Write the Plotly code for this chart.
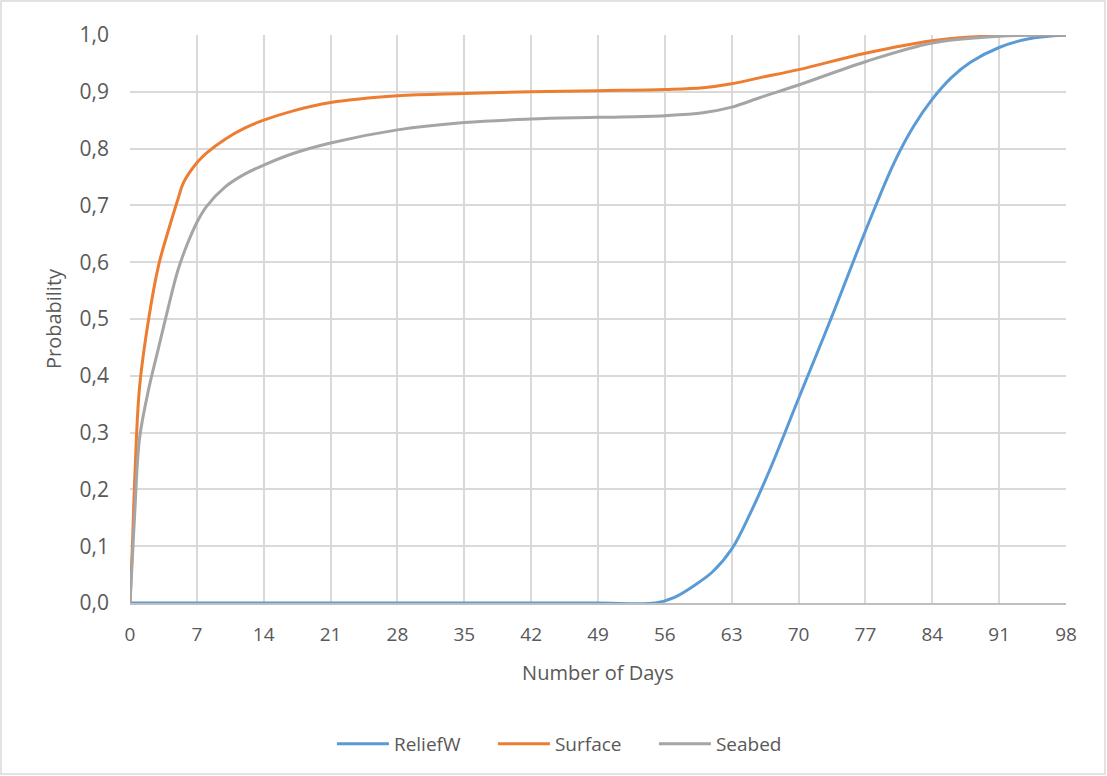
import plotly.graph_objects as go

# Cumulative probability curves vs. number of days
relief_days = [0, 14, 28, 42, 49, 55, 57, 59, 61, 63, 65, 67, 70, 73.5, 77, 80, 82, 84, 86, 88,
               91, 94, 98]
relief_prob = [0, 0, 0, 0, 0, 0, 0.01, 0.03, 0.055, 0.095, 0.16, 0.235, 0.36, 0.505, 0.655, 0.775,
               0.838, 0.887, 0.925, 0.952, 0.978, 0.993, 1.0]

surface_days = [0, 0.25, 0.5, 1, 2, 3, 4, 5, 5.6, 7, 8, 10, 12, 14, 17, 21, 28, 35, 42, 49, 56,
                60, 63, 66, 70, 77, 84, 91, 98]
surface_prob = [0, 0.1, 0.22, 0.38, 0.505, 0.595, 0.655, 0.71, 0.74, 0.775, 0.792, 0.817, 0.836,
                0.85, 0.866, 0.881, 0.893, 0.897, 0.9, 0.902, 0.904, 0.907, 0.914, 0.925, 0.939,
                0.968, 0.99, 0.999, 1.0]

seabed_days = [0, 0.25, 0.5, 1, 2, 3, 4, 5, 6, 7, 8, 10, 12, 14, 17, 21, 28, 35, 42, 49, 56,
               60, 63, 66, 70, 77, 84, 91, 98]
seabed_prob = [0, 0.08, 0.16, 0.29, 0.38, 0.45, 0.52, 0.585, 0.632, 0.67, 0.698, 0.733, 0.755,
               0.771, 0.791, 0.81, 0.833, 0.846, 0.852, 0.855, 0.858, 0.863, 0.873, 0.89, 0.912,
               0.953, 0.986, 0.998, 1.0]

x_ticks = list(range(0, 99, 7))

FONT = "Open Sans, Segoe UI, sans-serif"
TEXT = "#595959"
GRID = "#d9d9d9"

fig = go.Figure()
series = [
    ("ReliefW", relief_days, relief_prob, "#5b9bd5"),
    ("Surface", surface_days, surface_prob, "#ed7d31"),
    ("Seabed", seabed_days, seabed_prob, "#a5a5a5"),
]
for name, xs, ys, color in series:
    fig.add_trace(go.Scatter(
        x=xs, y=ys, name=name, mode="lines",
        line=dict(color=color, width=3, shape="spline", smoothing=1.0),
    ))

W, H = 1107, 776
L, R, T, B = 130, 41, 35, 173
pw, ph = W - L - R, H - T - B

fig.update_layout(
    width=W, height=H,
    margin=dict(l=L, r=R, t=T, b=B),
    paper_bgcolor="white", plot_bgcolor="white",
    separators=", ",
    font=dict(family=FONT, color=TEXT, size=18),
    showlegend=True,
    legend=dict(
        orientation="h", xref="container", yref="container",
        x=0.518, xanchor="center", y=1 - 744 / H, yanchor="middle",
        font=dict(size=19, color=TEXT), itemwidth=52,
        entrywidth=94, entrywidthmode="pixels",
    ),
    xaxis=dict(
        range=[0, 98], tickvals=x_ticks, showgrid=True, gridcolor=GRID, gridwidth=2,
        showline=True, linecolor="#bfbfbf", linewidth=2, zeroline=False,
        ticks="", ticklabelstandoff=13, tickfont=dict(size=19, color=TEXT),
        title=dict(text="Number of Days", font=dict(size=20, color=TEXT), standoff=20),
    ),
    yaxis=dict(
        range=[0, 1], dtick=0.1, tickformat=".1f", showgrid=True, gridcolor=GRID,
        gridwidth=2, zeroline=False, showline=False,
        ticks="", ticklabelstandoff=20, tickfont=dict(size=21, color=TEXT),
        title=dict(text="Probability", font=dict(size=20, color=TEXT), standoff=12),
    ),
    shapes=[dict(
        type="rect", xref="paper", yref="paper",
        x0=(1 - L) / pw, x1=(W - 2 - L) / pw,
        y0=-(B - 2) / ph, y1=1 + (T - 1) / ph,
        line=dict(color="#d9d9d9", width=1.5), fillcolor="rgba(0,0,0,0)", layer="below",
    )],
)

fig.write_html("out.html")
